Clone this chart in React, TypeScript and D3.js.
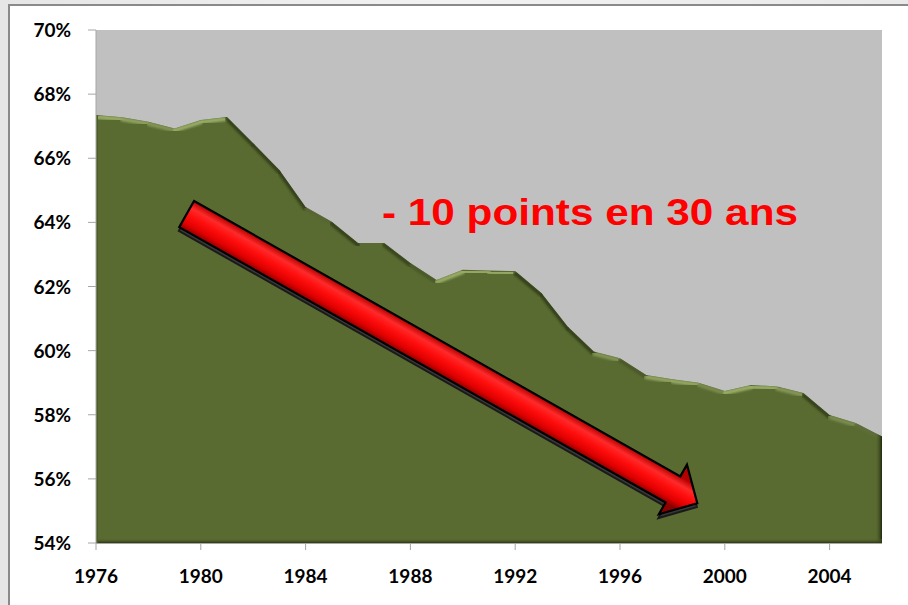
import React from "react";
import * as d3 from "d3";

const years = [1976,1977,1978,1979,1980,1981,1982,1983,1984,1985,1986,1987,1988,1989,1990,1991,1992,1993,1994,1995,1996,1997,1998,1999,2000,2001,2002,2003,2004,2005,2006];
const rates = [67.35,67.28,67.14,66.93,67.19,67.29,66.47,65.63,64.48,64.02,63.36,63.36,62.73,62.2,62.52,62.5,62.48,61.8,60.75,59.97,59.76,59.24,59.11,59.0,58.74,58.93,58.88,58.68,57.99,57.74,57.32];
const yTicks = [54,56,58,60,62,64,66,68,70];
const xTicks = [1976,1980,1984,1988,1992,1996,2000,2004];
const annotation = "- 10 points en 30 ans";
const arrowFrom = { year: 1979.46, value: 64.26 };
const arrowTo = { year: 1998.95, value: 55.24 };

const W = 908, H = 605;
const M = { left: 96, right: 882, top: 30, bottom: 543 };

export default function App() {
  const x = d3.scaleLinear().domain([1976, 2006]).range([M.left, M.right]);
  const y = d3.scaleLinear().domain([54, 70]).range([M.bottom, M.top]);
  const pts = years.map((yr, i) => [x(yr), y(rates[i])] as [number, number]);
  const area = d3.area<[number, number]>().x(d => d[0]).y0(M.bottom).y1(d => d[1])(pts) || "";

  const light = "#9aad68";
  const dark = "#34401a";
  const segs = pts.slice(0, -1).map((p, i) => {
    const q = pts[i + 1];
    const slope = (q[1] - p[1]) / (q[0] - p[0]);
    const t = Math.max(0, Math.min(1, (slope - 0.1) / 0.7));
    return { p, q, color: d3.interpolateRgb(light, dark)(t) };
  });

  // arrow geometry
  const ax0 = x(arrowFrom.year), ay0 = y(arrowFrom.value);
  const ax1 = x(arrowTo.year), ay1 = y(arrowTo.value);
  const ang = Math.atan2(ay1 - ay0, ax1 - ax0) * 180 / Math.PI;
  const L = Math.hypot(ax1 - ax0, ay1 - ay0);
  const hl = 28, hw = 28.5, sw = 15;
  const arrowPts = [[0, -sw], [L - hl, -sw], [L - hl, -hw], [L, 0], [L - hl, hw], [L - hl, sw], [0, sw]];
  const arrowPath = "M" + arrowPts.map(p => p.join(",")).join("L") + "Z";

  return (
    <svg width={W} height={H} style={{ position: "absolute", left: 0, top: 0 }} xmlns="http://www.w3.org/2000/svg">
      <defs>
        <linearGradient id="bg" x1="0" y1="0" x2="1" y2="0">
          <stop offset="0" stopColor="#e6e6e6" />
          <stop offset="0.5" stopColor="#f2f2f2" />
          <stop offset="1" stopColor="#e9e9e9" />
        </linearGradient>
        <clipPath id="areaClip"><path d={area} /></clipPath>
        <filter id="soft" x="-5%" y="-5%" width="110%" height="110%">
          <feGaussianBlur stdDeviation="1.1" />
        </filter>
        <linearGradient id="rightEdge" x1="0" y1="0" x2="1" y2="0">
          <stop offset="0" stopColor="#5a6b31" stopOpacity="0" />
          <stop offset="1" stopColor="#1f260c" stopOpacity="1" />
        </linearGradient>
        <linearGradient id="bottomEdge" x1="0" y1="0" x2="0" y2="1">
          <stop offset="0" stopColor="#5a6b31" stopOpacity="0" />
          <stop offset="1" stopColor="#2c3614" stopOpacity="1" />
        </linearGradient>
        <linearGradient id="arrowFill" gradientUnits="userSpaceOnUse" x1="0" y1={-sw} x2="0" y2={sw}>
          <stop offset="0" stopColor="#b30000" />
          <stop offset="0.25" stopColor="#ff2a2a" />
          <stop offset="0.5" stopColor="#ff0d0d" />
          <stop offset="0.8" stopColor="#e00000" />
          <stop offset="1" stopColor="#8c0000" />
        </linearGradient>
      </defs>

      <rect x={0} y={0} width={W} height={H} fill="url(#bg)" />
      <rect x={9} y={5} width={W} height={H} fill="#ffffff" stroke="#8a8a8a" strokeWidth={2} />

      <rect x={M.left} y={M.top} width={M.right - M.left} height={M.bottom - M.top} fill="#c0c0c0" />
      <path d={area} fill="#5a6b31" />
      <g clipPath="url(#areaClip)">
        {segs.map((s, i) => (
          <line key={i} x1={s.p[0]} y1={s.p[1] + 2} x2={s.q[0]} y2={s.q[1] + 2} stroke={s.color} strokeWidth={4} strokeLinecap="round" filter="url(#soft)" />
        ))}
        <rect x={M.right - 7} y={M.top} width={7} height={M.bottom - M.top} fill="url(#rightEdge)" />
        <rect x={M.left} y={M.bottom - 5} width={M.right - M.left} height={5} fill="url(#bottomEdge)" />
        <rect x={M.left} y={M.top} width={2} height={M.bottom - M.top} fill="#4e5e29" />
      </g>

      {/* axes */}
      <line x1={M.left} y1={M.top} x2={M.left} y2={M.bottom} stroke="#a6a6a6" strokeWidth={1} />
      <line x1={M.left} y1={M.bottom + 0.5} x2={M.right} y2={M.bottom + 0.5} stroke="#a6a6a6" strokeWidth={1} />
      {yTicks.map(v => (
        <g key={v}>
          <line x1={M.left - 8} x2={M.left} y1={y(v)} y2={y(v)} stroke="#a6a6a6" />
          <text x={71} y={y(v) + 7} textAnchor="end" fontFamily="Lato, 'Open Sans', sans-serif" fontWeight="bold" fontSize={19} fill="#000">{v}%</text>
        </g>
      ))}
      {xTicks.map(v => (
        <g key={v}>
          <line x1={x(v)} x2={x(v)} y1={M.bottom} y2={M.bottom + 7} stroke="#a6a6a6" />
          <text x={x(v)} y={583} textAnchor="middle" fontFamily="Lato, 'Open Sans', sans-serif" fontWeight="bold" fontSize={19} fill="#000">{v}</text>
        </g>
      ))}

      {/* arrow */}
      <g transform={`translate(${ax0},${ay0}) rotate(${ang})`}>
        <path d={arrowPath} transform="translate(1.5,3.5)" fill="#3a3a3a" stroke="#1a1a1a" strokeWidth={2} strokeLinejoin="miter" />
        <path d={arrowPath} fill="url(#arrowFill)" stroke="#000" strokeWidth={2.2} strokeLinejoin="miter" />
      </g>

      <text x={382} y={225} fontFamily="'Liberation Sans', Arial, sans-serif" fontWeight="bold" fontSize={36} fill="#ff0000" textLength={416} lengthAdjust="spacingAndGlyphs">{annotation}</text>
    </svg>
  );
}
